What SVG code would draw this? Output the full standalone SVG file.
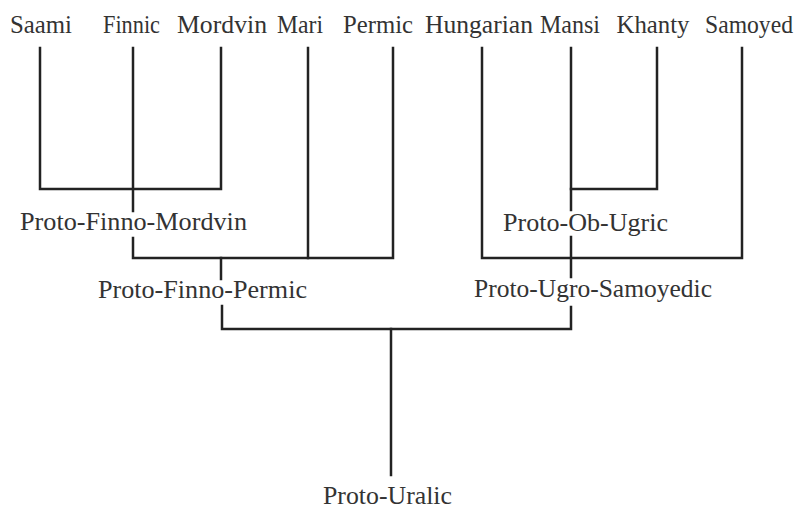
<svg xmlns="http://www.w3.org/2000/svg" width="801" height="509" viewBox="0 0 801 509">
<style>
.t{font-family:"Liberation Serif","DejaVu Serif",serif;font-size:25px;fill:#333;text-anchor:middle}
.l{fill:none;stroke:#222;stroke-width:2.5;stroke-linecap:square;stroke-linejoin:miter}
</style>
<rect width="801" height="509" fill="#fff"/>
<g id="connectors" class="l">
<path d="M40,48 V189 H221 V48"/>
<path d="M133,48 V211"/>
<path d="M133,238 V258 H393 V48"/>
<path d="M308,48 V258"/>
<path d="M221,258 V279"/>
<path d="M571,48 V210"/>
<path d="M571,189 H657 V48"/>
<path d="M482,48 V258 H742 V48"/>
<path d="M571,237 V277"/>
<path d="M222,306 V329 H571 V307"/>
<path d="M391,329 V475"/>
</g>
<g id="saami"><text class="t" x="41" y="33" textLength="62" lengthAdjust="spacingAndGlyphs">Saami</text></g>
<g id="finnic"><text class="t" x="131.5" y="33" textLength="57" lengthAdjust="spacingAndGlyphs">Finnic</text></g>
<g id="mordvin"><text class="t" x="222" y="33" textLength="90" lengthAdjust="spacingAndGlyphs">Mordvin</text></g>
<g id="mari"><text class="t" x="300" y="33" textLength="46" lengthAdjust="spacingAndGlyphs">Mari</text></g>
<g id="permic"><text class="t" x="378" y="33" textLength="70" lengthAdjust="spacingAndGlyphs">Permic</text></g>
<g id="hungarian"><text class="t" x="479" y="33" textLength="108" lengthAdjust="spacingAndGlyphs">Hungarian</text></g>
<g id="mansi"><text class="t" x="570" y="33" textLength="60" lengthAdjust="spacingAndGlyphs">Mansi</text></g>
<g id="khanty"><text class="t" x="653" y="33" textLength="73" lengthAdjust="spacingAndGlyphs">Khanty</text></g>
<g id="samoyed"><text class="t" x="749" y="33" textLength="88" lengthAdjust="spacingAndGlyphs">Samoyed</text></g>
<g id="proto-finno-mordvin"><text class="t" x="133.5" y="230" textLength="227" lengthAdjust="spacingAndGlyphs">Proto-Finno-Mordvin</text></g>
<g id="proto-ob-ugric"><text class="t" x="585.5" y="231" textLength="165" lengthAdjust="spacingAndGlyphs">Proto-Ob-Ugric</text></g>
<g id="proto-finno-permic"><text class="t" x="202.5" y="298" textLength="209" lengthAdjust="spacingAndGlyphs">Proto-Finno-Permic</text></g>
<g id="proto-ugro-samoyedic"><text class="t" x="593" y="297" textLength="238" lengthAdjust="spacingAndGlyphs">Proto-Ugro-Samoyedic</text></g>
<g id="proto-uralic"><text class="t" x="387.5" y="504" textLength="129" lengthAdjust="spacingAndGlyphs">Proto-Uralic</text></g>
</svg>
